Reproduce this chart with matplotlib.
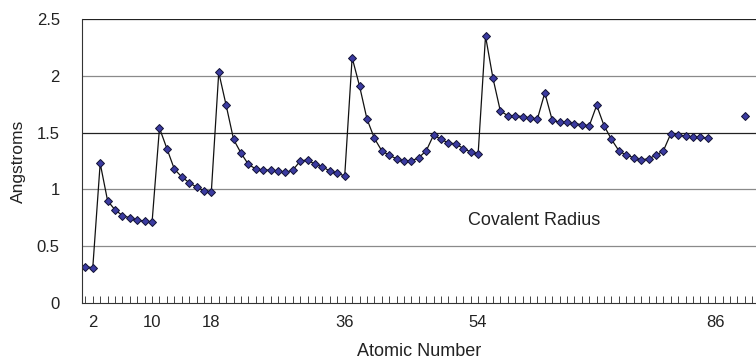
import numpy as np
import matplotlib
matplotlib.use("Agg")
import matplotlib.pyplot as plt
from matplotlib.ticker import MultipleLocator

plt.rcParams['font.family'] = ['Liberation Sans', 'DejaVu Sans']

# covalent radius (angstroms) for Z = 1..85, then Th and U
atomic_number = list(range(1, 86))
radius = [
    0.32, 0.31, 1.23, 0.90, 0.82, 0.77, 0.75, 0.73, 0.72, 0.71,
    1.54, 1.36, 1.18, 1.11, 1.06, 1.02, 0.99, 0.98,
    2.03, 1.74, 1.44, 1.32, 1.22, 1.18, 1.17, 1.17, 1.16, 1.15,
    1.17, 1.25, 1.26, 1.22, 1.20, 1.16, 1.14, 1.12,
    2.16, 1.91, 1.62, 1.45, 1.34, 1.30, 1.27, 1.25, 1.25, 1.28,
    1.34, 1.48, 1.44, 1.41, 1.40, 1.36, 1.33, 1.31,
    2.35, 1.98, 1.69, 1.65, 1.65, 1.64, 1.63, 1.62, 1.85, 1.61,
    1.59, 1.59, 1.58, 1.57, 1.56, 1.74, 1.56, 1.44, 1.34, 1.30,
    1.28, 1.26, 1.27, 1.30, 1.34, 1.49, 1.48, 1.47, 1.46, 1.46, 1.45,
]
extra_number = [90, 92]
extra_radius = [1.65, 1.42]

labelled_ticks = [2, 10, 18, 36, 54, 86]
y_ticks = [0, 0.5, 1, 1.5, 2, 2.5]
y_tick_labels = ["0", "0.5", "1", "1.5", "2", "2.5"]

fig = plt.figure(figsize=(7.56, 3.62), dpi=100)
ax = fig.add_axes([0.1085, 0.163, 0.8915, 0.7845])

marker_style = dict(marker='D', markersize=3.7, markerfacecolor='#3b3ba0',
                    markeredgecolor='#111133', markeredgewidth=0.7)

ax.plot(atomic_number, radius, color='#111111', linewidth=0.9, **marker_style)
ax.plot(extra_number, extra_radius, linestyle='none', **marker_style)

ax.set_xlim(0.55, 91.5)
ax.set_ylim(0, 2.5)

# horizontal gridlines, the 1.5 line is drawn darker
for yv in y_ticks[1:]:
    col = '#222222' if yv in (1.5, 2.5) else '#8a8a8a'
    ax.axhline(yv, color=col, linewidth=0.9, zorder=0)

ax.set_yticks(y_ticks)
ax.set_yticklabels(y_tick_labels)
ax.set_xticks(labelled_ticks)
ax.xaxis.set_minor_locator(MultipleLocator(1))
ax.tick_params(axis='y', length=0, pad=16, labelsize=12, colors='#222222')
ax.tick_params(axis='x', which='both', direction='in', length=5, width=0.7,
               color='#444444', pad=9, labelsize=12, labelcolor='#222222')

for side in ('top', 'right'):
    ax.spines[side].set_visible(False)
ax.spines['left'].set_color('#333333')
ax.spines['bottom'].set_color('#333333')

ax.set_xlabel("Atomic Number", fontsize=13, color='#222222', labelpad=9)
ax.set_ylabel("Angstroms", fontsize=12.5, color='#222222', labelpad=8)

ax.text(61.6, 0.73, "Covalent Radius", fontsize=13, color='#222222',
        ha='center', va='center')

fig.savefig("out.png", dpi=100)
